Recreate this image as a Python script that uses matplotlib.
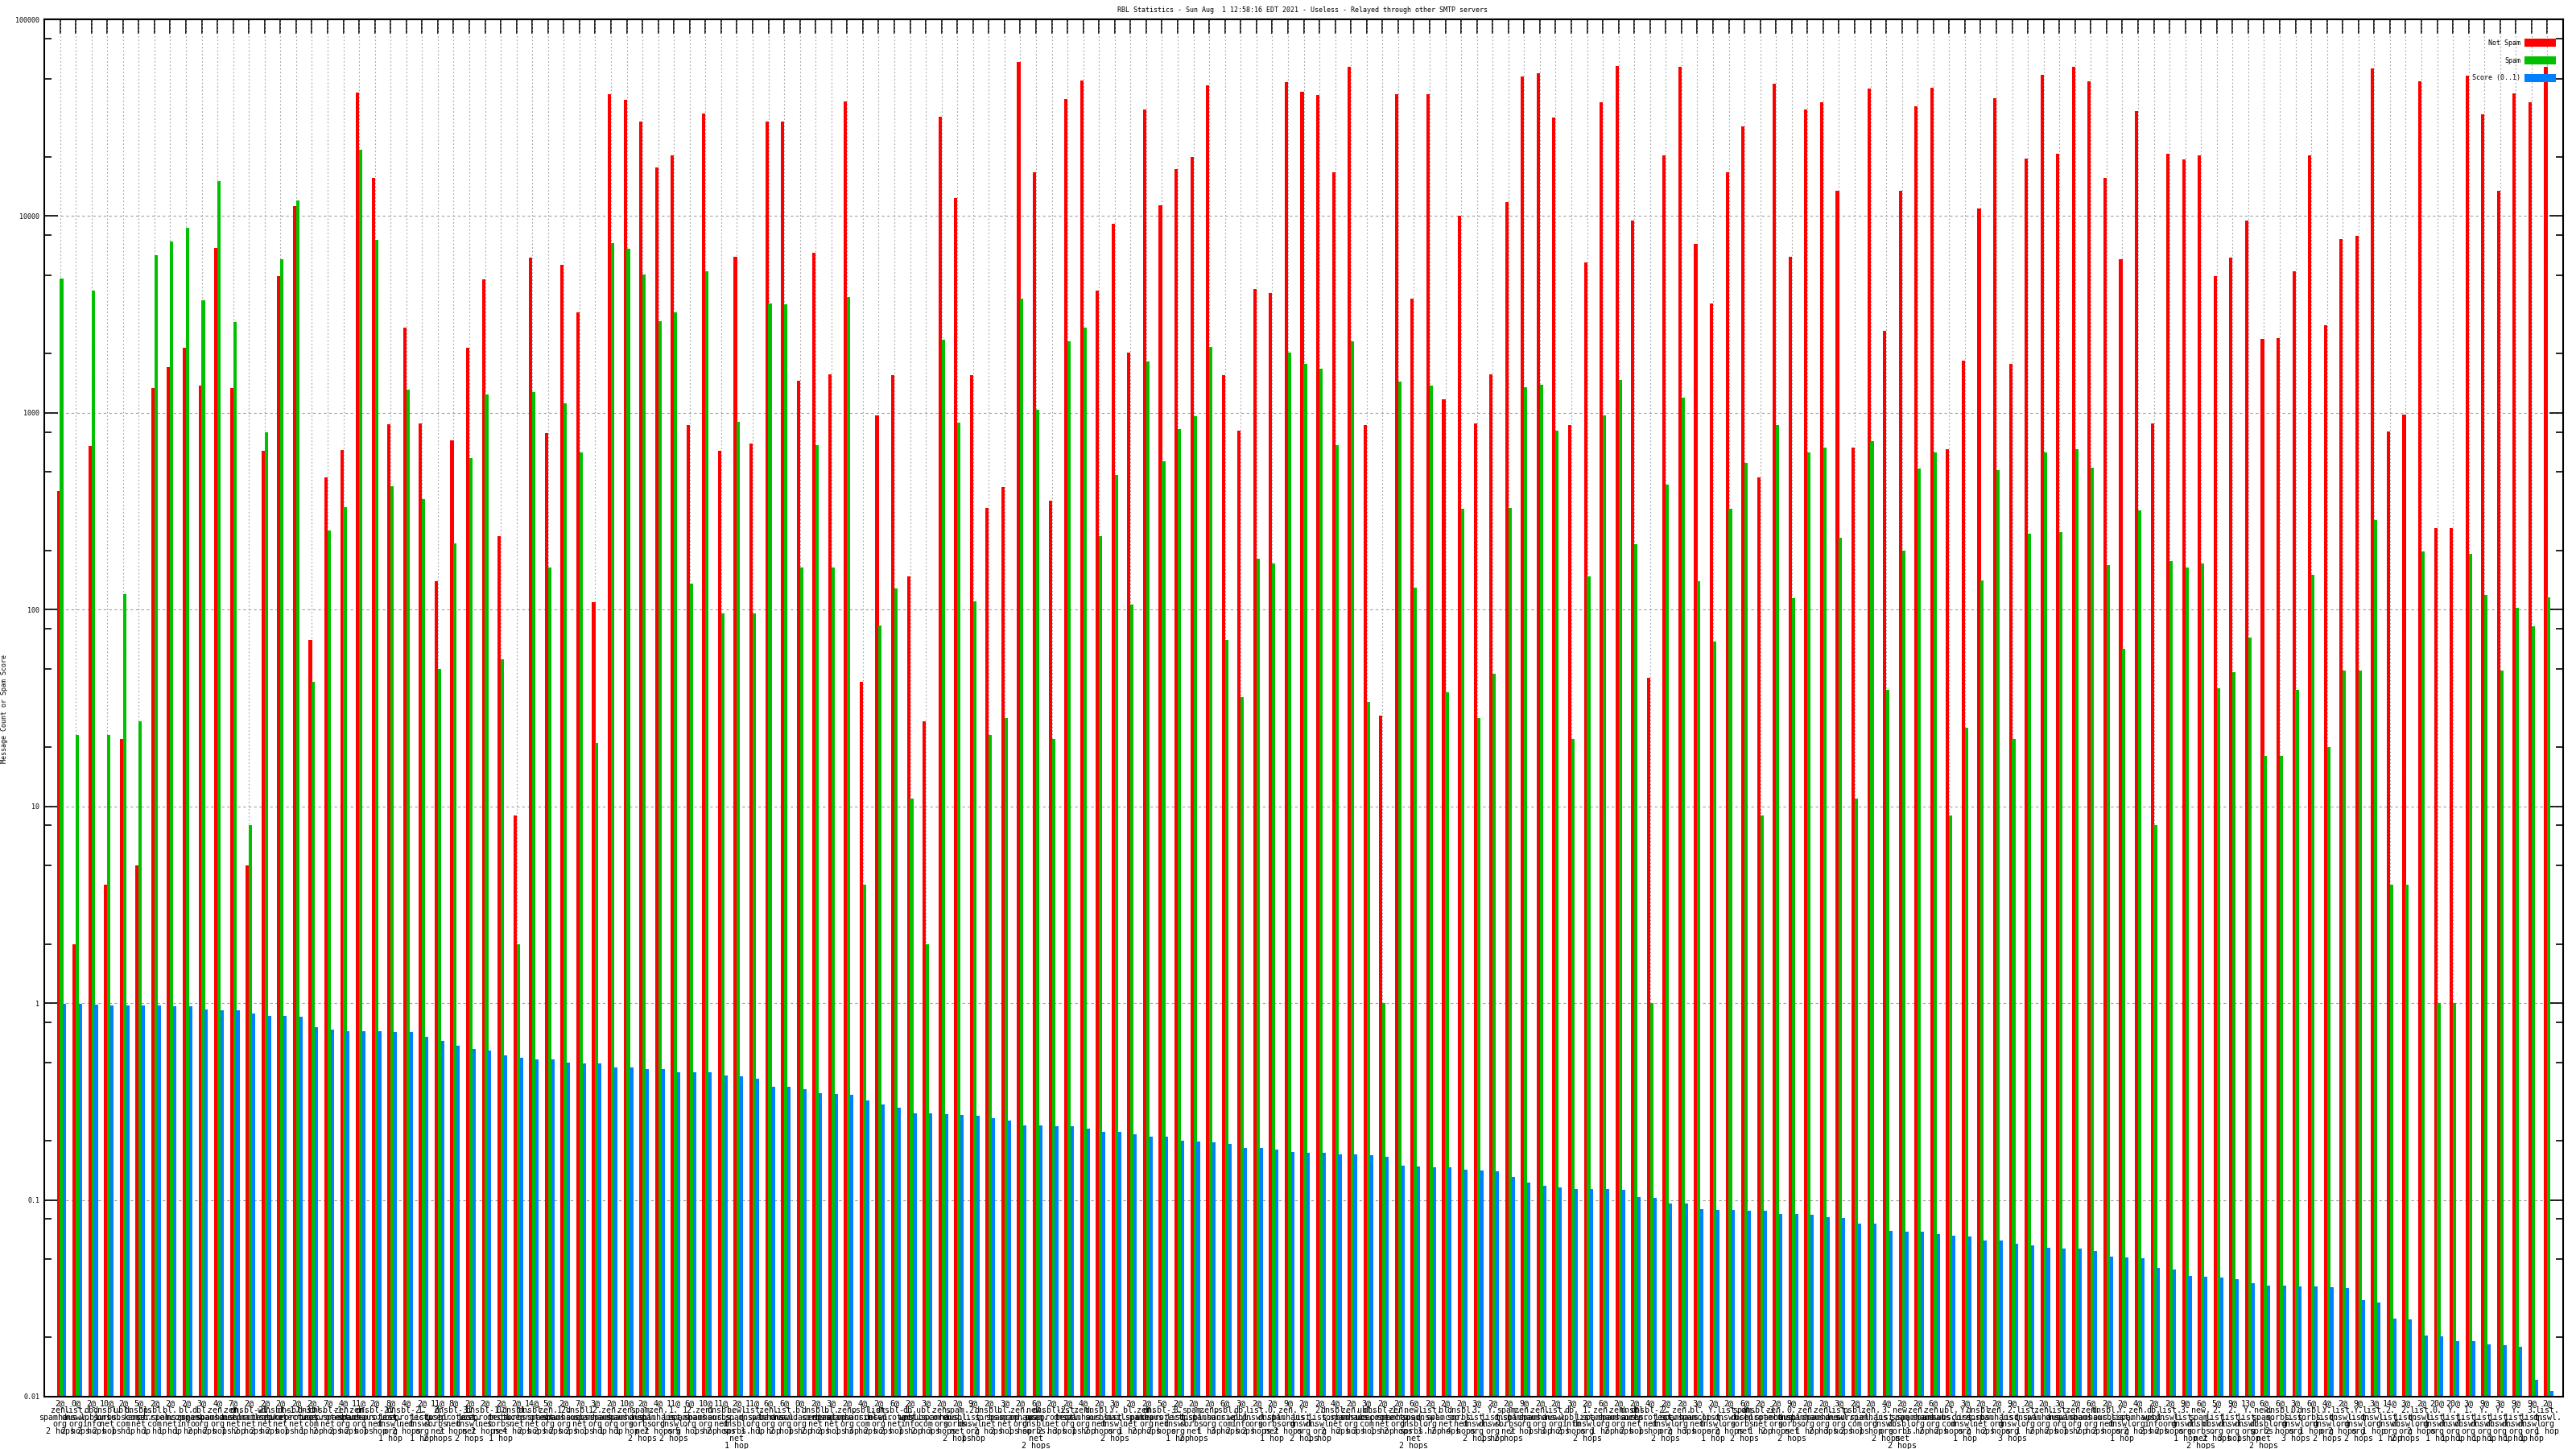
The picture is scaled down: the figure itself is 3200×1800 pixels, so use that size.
import matplotlib
matplotlib.use('Agg')
import matplotlib.pyplot as plt
from matplotlib.patches import Rectangle
from matplotlib.ticker import FixedLocator, NullFormatter
import numpy as np

title = 'RBL Statistics - Sun Aug  1 12:58:16 EDT 2021 - Useless - Relayed through other SMTP servers'

not_spam = [400, 2, 680, 4, 22, 5, 1340, 1710, 2150, 1380,
            6900, 1340, 5, 640, 4960, 11200, 70, 471, 648, 42400,
            15600, 874, 2720, 883, 139, 726, 2150, 4750, 236, 9,
            6150, 789, 5670, 3250, 109, 41600, 39100, 30200, 17700, 20400,
            866, 33100, 641, 6220, 697, 30200, 30200, 1450, 6480, 1575,
            38300, 43, 970, 1560, 148, 27, 32100, 12300, 1550, 328,
            420, 60900, 16700, 356, 39400, 49100, 4200, 9110, 2020, 34900,
            11400, 17300, 19900, 46100, 1560, 814, 4250, 4070, 48100, 42900,
            41100, 16700, 57200, 866, 29, 41600, 3790, 41600, 1170, 10000,
            883, 1575, 11800, 51100, 53200, 31800, 866, 5840, 37900, 57800,
            9500, 45, 20400, 57200, 7190, 3600, 16700, 28700, 471, 47100,
            6220, 34900, 37900, 13400, 668, 44300, 2610, 13500, 36000, 44700,
            655, 1840, 10900, 39800, 1770, 19600, 52200, 20800, 57200, 48600,
            15700, 6030, 34200, 883, 20800, 19400, 20400, 4960, 6150, 9500,
            2380, 2400, 5220, 20400, 2780, 7640, 7970, 56100, 805, 980,
            48600, 259, 259, 51700, 32800, 13500, 42000, 37900, 57200]

spam = [4800, 23, 4200, 23, 120, 27, 6350, 7410, 8740, 3750,
        15100, 2900, 8, 800, 6030, 12000, 43, 253, 331, 21700,
        7570, 424, 1310, 364, 50, 217, 590, 1240, 56, 2,
        1280, 164, 1120, 628, 21, 7260, 6830, 5060, 2930, 3250,
        136, 5220, 96, 902, 96, 3600, 3560, 164, 683, 164,
        3870, 4, 83, 128, 11, 2, 2360, 893, 110, 23,
        28, 3790, 1040, 22, 2310, 2720, 236, 485, 106, 1820,
        567, 830, 959, 2170, 70, 36, 182, 171, 2020, 1780,
        1680, 683, 2310, 34, 1, 1440, 129, 1380, 38, 325,
        28, 47, 328, 1350, 1390, 814, 22, 148, 970, 1470,
        215, 1, 433, 1190, 139, 69, 325, 555, 9, 866,
        114, 628, 668, 231, 11, 719, 39, 200, 522, 628,
        9, 25, 141, 511, 22, 243, 628, 248, 655, 527,
        168, 63, 318, 8, 177, 164, 171, 40, 48, 72,
        18, 18, 39, 151, 20, 49, 49, 284, 4, 4,
        198, 1, 1, 192, 119, 49, 102, 82, 116]

score = [0.99, 0.99, 0.98, 0.97, 0.97, 0.97, 0.97, 0.96, 0.96, 0.93,
         0.92, 0.92, 0.89, 0.865, 0.865, 0.85, 0.757, 0.734, 0.719, 0.719,
         0.719, 0.712, 0.712, 0.675, 0.641, 0.609, 0.585, 0.572, 0.544, 0.527,
         0.517, 0.517, 0.50, 0.496, 0.496, 0.471, 0.471, 0.461, 0.461, 0.447,
         0.447, 0.447, 0.429, 0.424, 0.412, 0.375, 0.375, 0.364, 0.349, 0.345,
         0.341, 0.321, 0.305, 0.293, 0.275, 0.275, 0.272, 0.27, 0.267, 0.261,
         0.253, 0.24, 0.24, 0.238, 0.238, 0.231, 0.221, 0.221, 0.215, 0.21,
         0.21, 0.2, 0.198, 0.196, 0.193, 0.184, 0.184, 0.18, 0.176, 0.174,
         0.174, 0.171, 0.171, 0.169, 0.166, 0.15, 0.148, 0.147, 0.146, 0.143,
         0.141, 0.14, 0.131, 0.123, 0.118, 0.116, 0.114, 0.114, 0.114, 0.113,
         0.103, 0.102, 0.096, 0.096, 0.09, 0.089, 0.089, 0.088, 0.088, 0.085,
         0.085, 0.084, 0.082, 0.081, 0.076, 0.076, 0.0697, 0.069, 0.069, 0.067,
         0.0655, 0.065, 0.062, 0.062, 0.060, 0.059, 0.0573, 0.0567, 0.0567, 0.055,
         0.0517, 0.051, 0.0506, 0.0452, 0.0443, 0.0411, 0.0407, 0.0403, 0.0395, 0.0379,
         0.0367, 0.0367, 0.0364, 0.0364, 0.036, 0.0357, 0.0311, 0.0302, 0.025, 0.0246,
         0.0204, 0.0202, 0.0192, 0.0192, 0.0184, 0.0182, 0.018, 0.0122, 0.0107]

hits = [2, 0, 2, 10, 2, 5, 2, 2, 2, 3, 4, 7, 2, 2, 2, 2, 2, 7, 4, 11,
        2, 8, 4, 2, 11, 8, 2, 2, 2, 2, 14, 5, 2, 7, 3, 2, 10, 2, 4, 11,
        6, 10, 11, 2, 11, 6, 6, 0, 2, 3, 2, 4, 2, 6, 2, 3, 2, 2, 9, 2,
        3, 2, 6, 2, 2, 4, 2, 3, 2, 2, 5, 2, 2, 2, 6, 3, 2, 2, 9, 2,
        2, 4, 2, 3, 2, 2, 6, 2, 2, 2, 3, 2, 2, 9, 2, 2, 3, 2, 6, 2,
        2, 4, 2, 2, 3, 2, 2, 6, 2, 2, 9, 2, 2, 3, 2, 2, 4, 2, 2, 6,
        2, 3, 2, 2, 9, 2, 2, 3, 2, 6, 2, 2, 4, 2, 2, 9, 6, 5, 9, 13,
        6, 6, 3, 6, 4, 2, 9, 3, 14, 3, 2, 20, 20, 3, 9, 3, 9, 9, 2]

zones = ['zen.spamhaus.org', 'list.dnswl.org', 'db.wpbl.info', 'dnsbl.sorbs.net', 'ubl.unsubscore.com',
         'dnsbl.kempt.net', 'psbl.surriel.com', 'bl.spamcop.net', 'bl.nszones.info', 'dbl.spamhaus.org',
         'zen.spamhaus.org', 'zen.dnsbl.net', 'dnsbl-2.uceprotect.net', 'wl.mailspike.net', 'dnsbl-1.uceprotect.net',
         'dnsbl-3.uceprotect.net', 'dnsbl.inps.com', 'dnsbl-1.uceprotect.net', 'zen.spamhaus.org', 'zen.spamhaus.org',
         'dnsbl-2.uceprotect.net', 'Y.list.dnswl.org', 'dnsbl-2.uceprotect.net', '1.list.dnswl.org', '2.dnsbl.sorbs.net',
         'dnsbl-3.uceprotect.net', '1.list.dnswl.net', 'dnsbl-1.uceprotect.net', '0.dnsbl.sorbs.net', 'dnsbl.sorbs.net',
         'dnsbl.uceprotect.net', 'zen.spamhaus.org', '12.spamhaus.org', 'dnsbl.sorbs.net', '12.spamhaus.org',
         'zen.spamhaus.org', 'zen.spamhaus.org', 'spam.dnsbl.sorbs.net', 'zen.spamhaus.org', '1.list.dnswl.org',
         '12.spamhaus.org', 'zen.spamhaus.org', 'dnsbl.sorbs.net', 'new.spam.dnsbl.sorbs.net', 'list.dnswl.org',
         'zen.spamhaus.org', 'list.dnswl.org', 'b.barracudacentral.org', 'dnsbl.sorbs.net', 'bl.spamcop.net',
         'zen.spamhaus.org', 'psbl.surriel.com', 'list.dnswl.org', 'dnsbl-1.uceprotect.net', 'db.wpbl.info',
         'ubl.unsubscore.com', 'zen.spamhaus.org', 'spam.dnsbl.sorbs.net', '2.list.dnswl.org', 'dnsbl.sorbs.net',
         'bl.spamcop.net', 'zen.spamhaus.org', 'new.spam.dnsbl.sorbs.net', 'dnsbl-2.uceprotect.net', 'list.dnswl.org',
         'zen.spamhaus.org', 'dnsbl.sorbs.net', 'Y.list.dnswl.org', 'bl.mailspike.net', 'zen.spamhaus.org',
         'dnsbl-3.uceprotect.net', '3.list.dnswl.org', 'spam.dnsbl.sorbs.net', 'zen.spamhaus.org', 'psbl.surriel.com',
         'db.wpbl.info', 'list.dnswl.org', '0.dnsbl.sorbs.net', 'zen.spamhaus.org', 'Y.list.dnswl.org',
         '2.list.dnswl.org', 'dnsbl.sorbs.net', 'zen.spamhaus.org', 'ubl.unsubscore.com', 'dnsbl-1.uceprotect.net',
         'zen.spamhaus.org', 'new.spam.dnsbl.sorbs.net', 'list.dnswl.org', 'bl.spamcop.net', 'dnsbl.sorbs.net',
         '3.list.dnswl.org', 'Y.list.dnswl.org', 'spam.dnsbl.sorbs.net', 'zen.spamhaus.org', 'zen.spamhaus.org',
         'list.dnswl.org', 'db.wpbl.info', '1.list.dnswl.org', 'zen.spamhaus.org', 'zen.spamhaus.org',
         'dnsbl.sorbs.net', 'dnsbl-2.uceprotect.net', '2.list.dnswl.org', 'zen.spamhaus.org', 'bl.spamcop.net',
         'Y.list.dnswl.org', 'list.dnswl.org', 'spam.dnsbl.sorbs.net', 'dnsbl-3.uceprotect.net', 'zen.spamhaus.org',
         '0.dnsbl.sorbs.net', 'zen.spamhaus.org', 'zen.spamhaus.org', 'list.dnswl.org', 'psbl.surriel.com',
         'zen.spamhaus.org', '3.list.dnswl.org', 'new.spam.dnsbl.sorbs.net', 'zen.spamhaus.org', 'zen.spamhaus.org',
         'ubl.unsubscore.com', 'Y.list.dnswl.org', 'dnsbl.sorbs.net', 'zen.spamhaus.org', '2.list.dnswl.org',
         'list.dnswl.org', 'zen.spamhaus.org', 'list.dnswl.org', 'zen.spamhaus.org', 'zen.spamhaus.org',
         'dnsbl.sorbs.net', 'Y.list.dnswl.org', 'zen.spamhaus.org', 'db.wpbl.info', 'list.dnswl.org',
         '3.list.dnswl.org', 'new.spam.dnsbl.sorbs.net', '2.list.dnswl.org', '2.list.dnswl.org', 'Y.list.dnswl.org',
         'new.spam.dnsbl.sorbs.net', 'dnsbl.sorbs.org', '0.list.dnswl.org', 'dnsbl.sorbs.org', 'Y.list.dnswl.org',
         'list.dnswl.org', 'Y.list.dnswl.org', 'list.dnswl.org', '2.list.dnswl.org', '2.list.dnswl.org',
         'list.dnswl.org', '0.list.dnswl.org', 'Y.list.dnswl.org', '1.list.dnswl.org', 'Y.list.dnswl.org',
         'Y.list.dnswl.org', 'Y.list.dnswl.org', '3.list.dnswl.org', 'list.dnswl.org']

hops = ['2 hops', '2 hops', '2 hops', '2 hops', '1 hop', '1 hop', '1 hop', '1 hop', '1 hop', '2 hops',
        '2 hops', '1 hop', '2 hops', '2 hops', '2 hops', '1 hop', '1 hop', '2 hops', '2 hops', '2 hops',
        '1 hop', '1 hop', '2 hops', '1 hop', '2 hops', '2 hops', '2 hops', '2 hops', '1 hop', '4 hops',
        '2 hops', '2 hops', '2 hops', '2 hops', '1 hop', '1 hop', '1 hop', '2 hops', '2 hops', '2 hops',
        '5 hops', '1 hop', '2 hops', '1 hop', '1 hop', '1 hop', '2 hops', '1 hop', '2 hops', '2 hops',
        '1 hop', '3 hops', '2 hops', '2 hops', '1 hop', '2 hops', '3 hops', '2 hops', '1 hop', '2 hops',
        '2 hops', '1 hop', '2 hops', '2 hops', '3 hops', '1 hop', '2 hops', '2 hops', '1 hop', '2 hops',
        '2 hops', '1 hop', '2 hops', '1 hop', '3 hops', '2 hops', '2 hops', '1 hop', '2 hops', '2 hops',
        '1 hop', '2 hops', '2 hops', '3 hops', '1 hop', '2 hops', '2 hops', '1 hop', '2 hops', '4 hops',
        '2 hops', '1 hop', '2 hops', '2 hops', '1 hop', '3 hops', '2 hops', '2 hops', '1 hop', '2 hops',
        '2 hops', '1 hop', '2 hops', '2 hops', '3 hops', '1 hop', '2 hops', '2 hops', '1 hop', '2 hops',
        '2 hops', '1 hop', '2 hops', '3 hops', '2 hops', '1 hop', '2 hops', '2 hops', '1 hop', '2 hops',
        '2 hops', '1 hop', '2 hops', '2 hops', '3 hops', '1 hop', '2 hops', '2 hops', '1 hop', '2 hops',
        '2 hops', '1 hop', '2 hops', '2 hops', '2 hops', '1 hop', '2 hops', '2 hops', '3 hops', '1 hop',
        '2 hops', '2 hops', '3 hops', '1 hop', '2 hops', '2 hops', '2 hops', '1 hop', '1 hop', '2 hops',
        '2 hops', '1 hop', '1 hop', '1 hop', '1 hop', '1 hop', '1 hop', '1 hop', '1 hop']

labels = []
for h, z, hp in zip(hits, zones, hops):
    parts = z.split('.')
    lines = [p + '.' for p in parts[:-1]] + [parts[-1]]
    labels.append('\n'.join([f'{h}@'] + lines + [hp]))

mono = 'DejaVu Sans Mono'
W, H = 3200, 1800
x = np.arange(len(not_spam))

fig = plt.figure(figsize=(32, 18), dpi=100)
ax = fig.add_axes([55 / W, 1 - 1735 / H, (3184 - 55) / W, (1735 - 24) / H])
ax.set_yscale('log', nonpositive='clip')

bw = 0.21
ax.bar(x - 0.1, not_spam, bw, color='#ff0000', linewidth=0, zorder=2)
ax.bar(x + 0.1, spam, bw, color='#00c000', linewidth=0, zorder=2)
ax.bar(x + 0.3, score, bw, color='#0080ff', linewidth=0, zorder=2)

ax.set_xlim(-1, len(not_spam))
ax.set_ylim(0.01, 100000)

# y ticks: decades labelled, minor at 2, 5, 8
majors = [0.01, 0.1, 1, 10, 100, 1000, 10000, 100000]
ax.yaxis.set_major_locator(FixedLocator(majors))
ax.set_yticklabels(['0.01', '0.1', '1', '10', '100', '1000', '10000', '100000'],
                   fontsize=6, family=mono)
minors = [m * d for d in majors[:-1] for m in (2, 5, 8)]
ax.yaxis.set_minor_locator(FixedLocator(minors))
ax.yaxis.set_minor_formatter(NullFormatter())
ax.tick_params(axis='y', which='major', direction='in', length=12, width=1.2,
               right=True, pad=4)
ax.tick_params(axis='y', which='minor', direction='in', length=6.5, width=1.2, right=True)

ax.set_xticks(x)
ax.set_xticklabels(labels, fontsize=7.2, family=mono, linespacing=0.86, va='top')
ax.tick_params(axis='x', which='major', direction='in', length=6, width=1.2, pad=2)
ax.tick_params(axis='x', which='minor', bottom=False, top=False)

top = ax.secondary_xaxis('top')
top.set_xticks(x)
top.set_xticklabels([])
top.tick_params(direction='in', length=13, width=1.2)
top.spines['top'].set_linewidth(1.5)

ax.grid(axis='x', which='major', color='#a0a0a0', linestyle=(0, (1.5, 2.5)), linewidth=0.8)
ax.grid(axis='y', which='major', color='#a0a0a0', linestyle=(0, (3, 3)), linewidth=0.8)
ax.set_axisbelow(True)
for s in ax.spines.values():
    s.set_linewidth(1.5)

fig.text(1618 / W, 1 - 12.5 / H, title, ha='center', va='center', fontsize=6, family=mono)
fig.text(6 / W, 1 - 880 / H, 'Message Count or Spam Score', rotation=90,
         ha='center', va='center', fontsize=6, family=mono)

# legend box in the top right corner
legend = [('Not Spam', '#ff0000', 53), ('Spam', '#00c000', 75), ('Score (0..1)', '#0080ff', 97)]
for name, col, yy in legend:
    fig.text(3131 / W, 1 - yy / H, name, ha='right', va='center', fontsize=6, family=mono)
    fig.add_artist(Rectangle((3136 / W, 1 - (yy + 5) / H), 39 / W, 10 / H,
                             transform=fig.transFigure, facecolor=col, edgecolor='none'))

fig.savefig('out.png', dpi=100)
